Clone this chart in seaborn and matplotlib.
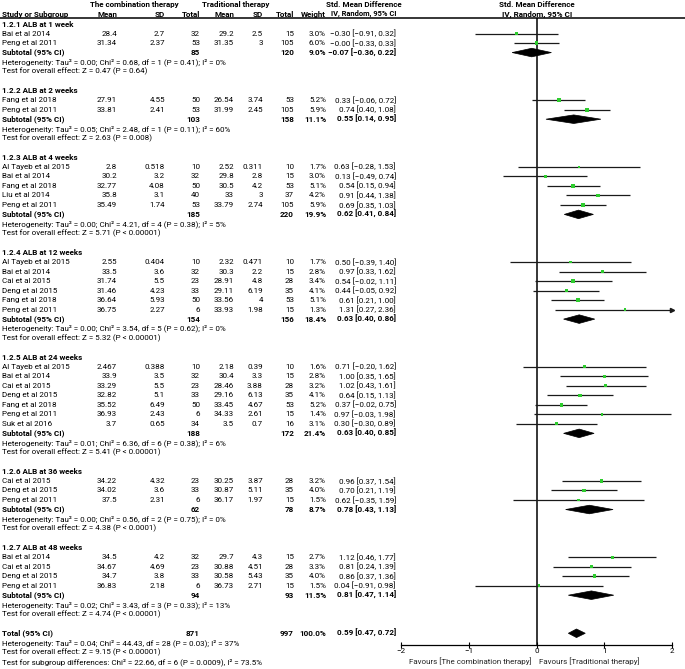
import matplotlib
matplotlib.use('Agg')
import matplotlib.pyplot as plt
import pandas as pd
import seaborn as sns
from matplotlib.patches import Polygon

# ---- данные ----
groups = ['1.2.1 ALB at 1 week', '1.2.2 ALB at 2 weeks', '1.2.3 ALB at 4 weeks',
          '1.2.4 ALB at 12 weeks', '1.2.5 ALB at 24 weeks', '1.2.6 ALB at 36 weeks',
          '1.2.7 ALB at 48 weeks']

study_group = [0, 0,
               1, 1,
               2, 2, 2, 2, 2,
               3, 3, 3, 3, 3, 3,
               4, 4, 4, 4, 4, 4, 4,
               5, 5, 5,
               6, 6, 6, 6]
study_names = ['Bai et al 2014', 'Peng et al 2011',
               'Fang et al 2018', 'Peng et al 2011',
               'Al Tayeb et al 2015', 'Bai et al 2014', 'Fang et al 2018', 'Liu et al 2014', 'Peng et al 2011',
               'Al Tayeb et al 2015', 'Bai et al 2014', 'Cai et al 2015', 'Deng et al 2015', 'Fang et al 2018',
               'Peng et al 2011',
               'Al Tayeb et al 2015', 'Bai et al 2014', 'Cai et al 2015', 'Deng et al 2015', 'Fang et al 2018',
               'Peng et al 2011', 'Suk et al 2016',
               'Cai et al 2015', 'Deng et al 2015', 'Peng et al 2011',
               'Bai et al 2014', 'Cai et al 2015', 'Deng et al 2015', 'Peng et al 2011']
comb_mean = [28.4, 31.34,
             27.91, 33.81,
             2.8, 30.2, 32.77, 35.8, 35.49,
             2.55, 33.5, 31.74, 31.46, 36.64, 36.75,
             2.467, 33.9, 33.29, 32.82, 35.52, 36.93, 3.7,
             34.22, 34.02, 37.5,
             34.5, 34.67, 34.7, 36.83]
comb_sd = [2.7, 2.37,
           4.55, 2.41,
           0.518, 3.2, 4.08, 3.1, 1.74,
           0.404, 3.6, 5.5, 4.23, 5.93, 2.27,
           0.388, 3.5, 5.5, 5.1, 6.49, 2.43, 0.65,
           4.32, 3.6, 2.31,
           4.2, 4.69, 3.8, 2.18]
comb_n = [32, 53,
          50, 53,
          10, 32, 50, 40, 53,
          10, 32, 23, 33, 50, 6,
          10, 32, 23, 33, 50, 6, 34,
          23, 33, 6,
          32, 23, 33, 6]
trad_mean = [29.2, 31.35,
             26.54, 31.99,
             2.52, 29.8, 30.5, 33, 33.79,
             2.32, 30.3, 28.91, 29.11, 33.56, 33.93,
             2.18, 30.4, 28.46, 29.16, 33.45, 34.33, 3.5,
             30.25, 30.87, 36.17,
             29.7, 30.88, 30.58, 36.73]
trad_sd = [2.5, 3,
           3.74, 2.45,
           0.311, 2.8, 4.2, 3, 2.74,
           0.471, 2.2, 4.8, 6.19, 4, 1.98,
           0.39, 3.3, 3.88, 6.13, 4.67, 2.61, 0.7,
           3.87, 5.11, 1.97,
           4.3, 4.51, 5.43, 2.71]
trad_n = [15, 105,
          53, 105,
          10, 15, 53, 37, 105,
          10, 15, 28, 35, 53, 15,
          10, 15, 28, 35, 53, 15, 16,
          28, 35, 15,
          15, 28, 35, 15]
weight = [3.0, 6.0,
          5.2, 5.9,
          1.7, 3.0, 5.1, 4.2, 5.9,
          1.7, 2.8, 3.4, 4.1, 5.1, 1.3,
          1.6, 2.8, 3.2, 4.1, 5.2, 1.4, 3.1,
          3.2, 4.0, 1.5,
          2.7, 3.3, 4.0, 1.5]
smd = [-0.30, -0.00,
       0.33, 0.74,
       0.63, 0.13, 0.54, 0.91, 0.69,
       0.50, 0.97, 0.54, 0.44, 0.61, 1.31,
       0.71, 1.00, 1.02, 0.64, 0.37, 0.97, 0.30,
       0.96, 0.70, 0.62,
       1.12, 0.81, 0.86, 0.04]
ci_lo = [-0.91, -0.33,
         -0.06, 0.40,
         -0.28, -0.49, 0.15, 0.44, 0.35,
         -0.39, 0.33, -0.02, -0.05, 0.21, 0.27,
         -0.20, 0.35, 0.43, 0.15, -0.02, -0.03, -0.30,
         0.37, 0.21, -0.35,
         0.46, 0.24, 0.37, -0.91]
ci_hi = [0.32, 0.33,
         0.72, 1.08,
         1.53, 0.74, 0.94, 1.38, 1.03,
         1.40, 1.62, 1.11, 0.92, 1.00, 2.36,
         1.62, 1.65, 1.61, 1.13, 0.75, 1.98, 0.89,
         1.54, 1.19, 1.59,
         1.77, 1.39, 1.36, 0.98]

sub_n1 = [85, 103, 185, 154, 188, 62, 94]
sub_n2 = [120, 158, 220, 156, 172, 78, 93]
sub_w = [9.0, 11.1, 19.9, 18.4, 21.4, 8.7, 11.5]
sub_smd = [-0.07, 0.55, 0.62, 0.63, 0.63, 0.78, 0.81]
sub_lo = [-0.36, 0.14, 0.41, 0.40, 0.40, 0.43, 0.47]
sub_hi = [0.22, 0.95, 0.84, 0.86, 0.85, 1.13, 1.14]
sub_het = ['Tau² = 0.00; Chi² = 0.68, df = 1 (P = 0.41); I² = 0%',
           'Tau² = 0.05; Chi² = 2.48, df = 1 (P = 0.11); I² = 60%',
           'Tau² = 0.00; Chi² = 4.21, df = 4 (P = 0.38); I² = 5%',
           'Tau² = 0.00; Chi² = 3.54, df = 5 (P = 0.62); I² = 0%',
           'Tau² = 0.01; Chi² = 6.36, df = 6 (P = 0.38); I² = 6%',
           'Tau² = 0.00; Chi² = 0.56, df = 2 (P = 0.75); I² = 0%',
           'Tau² = 0.02; Chi² = 3.43, df = 3 (P = 0.33); I² = 13%']
sub_z = ['Z = 0.47 (P = 0.64)', 'Z = 2.63 (P = 0.008)', 'Z = 5.71 (P < 0.00001)',
         'Z = 5.32 (P < 0.00001)', 'Z = 5.41 (P < 0.00001)', 'Z = 4.38 (P < 0.0001)',
         'Z = 4.74 (P < 0.00001)']

total_n1, total_n2, total_w = 871, 997, 100.0
total_smd, total_lo, total_hi = 0.59, 0.47, 0.72
total_het = 'Tau² = 0.04; Chi² = 44.43, df = 28 (P = 0.03); I² = 37%'
total_z = 'Z = 9.15 (P < 0.00001)'
subgroup_diff = 'Chi² = 22.66, df = 6 (P = 0.0009), I² = 73.5%'

# ---- раскладка ----
W, H = 685, 669
ROW0, STEP = 24.0, 9.52   # пиксель первой строки и шаг строк
FS = 5.8
COL_X = [117, 165, 200, 234, 263, 294, 326, 396]
GREEN = '#2ecc2e'


def row_px(py):
    return (py - ROW0) / STEP


def fmt_ci(m, lo, hi):
    s = '%.2f [%.2f, %.2f]' % (m, lo, hi)
    return s.replace('-', '\u2212')


sns.set_theme(style='white')
plt.rcParams['font.family'] = ['Roboto', 'DejaVu Sans']

fig = plt.figure(figsize=(W / 100, H / 100), dpi=100)
tax = fig.add_axes([0, 0, 1, 1])
tax.set_xlim(0, W)
tax.set_ylim(row_px(H), row_px(0))
tax.axis('off')

fax = fig.add_axes([401 / W, 1 - 645 / H, (672 - 401) / W, (645 - 18) / H])


def put(x, r, s, ha='right', bold=False, size=FS):
    tax.text(x, r, s, ha=ha, va='center', fontsize=size,
             fontweight='bold' if bold else 'normal', color='black')


# шапка
hr1, hr2 = row_px(4.5), row_px(14)
put(134, hr1, 'The combination therapy', ha='center', bold=True)
put(236, hr1, 'Traditional therapy', ha='center', bold=True)
put(364, hr1, 'Std. Mean Difference', ha='center', bold=True)
put(537, hr1, 'Std. Mean Difference', ha='center', bold=True)
put(2, hr2, 'Study or Subgroup', ha='left', bold=True)
for x, s in zip(COL_X[:7], ['Mean', 'SD', 'Total', 'Mean', 'SD', 'Total', 'Weight']):
    put(x, hr2, s, bold=True)
put(364, hr2, 'IV, Random, 95% CI', ha='center', bold=True, size=FS - 0.4)
put(537, hr2, 'IV, Random, 95% CI', ha='center', bold=True)
tax.plot([0, W], [row_px(18)] * 2, color='black', lw=1.1)

# строки
study_rows = []
sub_rows = []
r = 0
for g, gname in enumerate(groups):
    put(2, r, gname, ha='left', bold=True)
    r += 1
    for i in [k for k, sg in enumerate(study_group) if sg == g]:
        vals = ['%g' % comb_mean[i], '%g' % comb_sd[i], '%d' % comb_n[i],
                '%g' % trad_mean[i], '%g' % trad_sd[i], '%d' % trad_n[i],
                '%.1f%%' % weight[i], fmt_ci(smd[i], ci_lo[i], ci_hi[i])]
        put(2, r, study_names[i], ha='left')
        for x, s in zip(COL_X, vals):
            put(x, r, s)
        study_rows.append(r)
        r += 1
    put(2, r, 'Subtotal (95% CI)', ha='left', bold=True)
    put(COL_X[2], r, '%d' % sub_n1[g], bold=True)
    put(COL_X[5], r, '%d' % sub_n2[g], bold=True)
    put(COL_X[6], r, '%.1f%%' % sub_w[g], bold=True)
    put(COL_X[7], r, fmt_ci(sub_smd[g], sub_lo[g], sub_hi[g]), bold=True)
    sub_rows.append(r)
    put(2, r + 1, 'Heterogeneity: ' + sub_het[g], ha='left')
    put(2, r + 2, 'Test for overall effect: ' + sub_z[g], ha='left')
    r += 4

total_row = r
put(2, r, 'Total (95% CI)', ha='left', bold=True)
put(COL_X[2], r, '%d' % total_n1, bold=True)
put(COL_X[5], r, '%d' % total_n2, bold=True)
put(COL_X[6], r, '%.1f%%' % total_w, bold=True)
put(COL_X[7], r, fmt_ci(total_smd, total_lo, total_hi), bold=True)
put(2, r + 1, 'Heterogeneity: ' + total_het, ha='left')
put(2, r + 2, 'Test for overall effect: ' + total_z, ha='left')
put(2, r + 3, 'Test for subgroup differences: ' + subgroup_diff, ha='left')

# ---- лесной график ----
df = pd.DataFrame({'row': study_rows, 'smd': smd, 'lo': ci_lo, 'hi': ci_hi, 'weight': weight})
fax.hlines(df['row'], df['lo'], df['hi'].clip(upper=2), color='#1a1a1a', lw=0.9, zorder=2)
sns.scatterplot(data=df, x='smd', y='row', marker='s', size='weight', sizes=(3, 8),
                color=GREEN, edgecolor='none', legend=False, ax=fax, zorder=3)
for _, rr in df[df['hi'] > 2].iterrows():
    fax.plot(2, rr['row'], marker='>', color='#1a1a1a', markersize=3, clip_on=False, zorder=3)

dh = 0.45
for m, lo, hi, rr in zip(sub_smd + [total_smd], sub_lo + [total_lo],
                         sub_hi + [total_hi], sub_rows + [total_row]):
    fax.add_patch(Polygon([(lo, rr), (m, rr - dh), (hi, rr), (m, rr + dh)],
                          closed=True, facecolor='black', edgecolor='black', lw=0.5, zorder=4))

fax.axvline(0, color='black', lw=1.1, zorder=1)
fax.set_xlim(-2, 2)
fax.set_ylim(row_px(645), row_px(18))
fax.set_xticks([-2, -1, 0, 1, 2])
fax.set_yticks([])
fax.set_xlabel('')
fax.set_ylabel('')
fax.tick_params(axis='x', direction='inout', length=5, width=0.8, labelsize=5.8, pad=0,
                colors='black', bottom=True)
for side in ['left', 'right', 'top']:
    fax.spines[side].set_visible(False)
fax.spines['bottom'].set_color('black')
fax.spines['bottom'].set_linewidth(0.9)
fax.patch.set_alpha(0)

yf = 1 - 661 / H
fig.text(532 / W, yf, 'Favours [The combination therapy]', ha='right', va='center', fontsize=FS)
fig.text(539 / W, yf, 'Favours [Traditional therapy]', ha='left', va='center', fontsize=FS)

fig.savefig('out.png', dpi=100)
